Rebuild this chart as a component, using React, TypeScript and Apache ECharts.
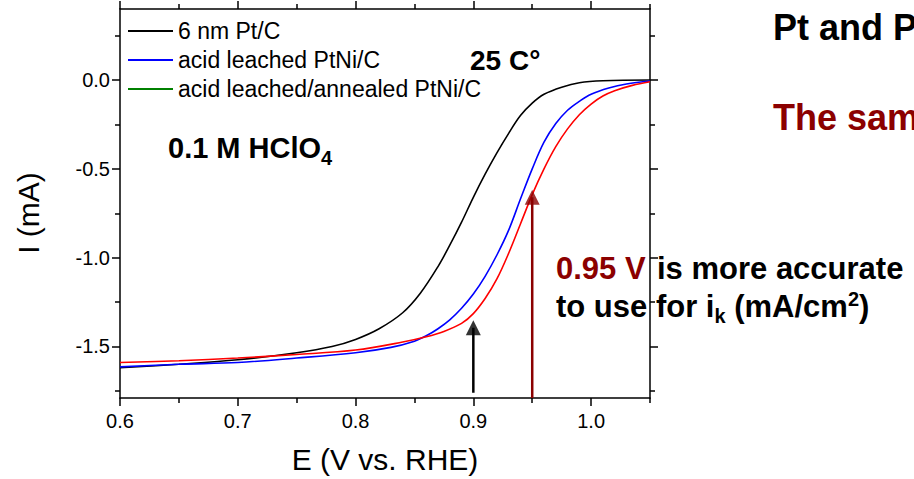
import React, { useEffect, useRef } from "react";
import * as echarts from "echarts";

// Polarization curves, I (mA) vs E (V vs. RHE)
const ptC: [number, number][] = [
  [0.6, -1.62], [0.65, -1.6], [0.7, -1.575], [0.75, -1.535], [0.78, -1.5],
  [0.8, -1.46], [0.82, -1.4], [0.84, -1.31], [0.855, -1.2], [0.87, -1.05],
  [0.88, -0.93], [0.89, -0.8], [0.9, -0.66], [0.91, -0.53], [0.92, -0.41],
  [0.93, -0.3], [0.94, -0.2], [0.95, -0.13], [0.96, -0.08], [0.975, -0.04],
  [0.99, -0.015], [1.01, -0.004], [1.05, 0.0],
];
const leachedPtNi: [number, number][] = [
  [0.6, -1.615], [0.65, -1.6], [0.7, -1.59], [0.75, -1.565], [0.8, -1.535],
  [0.83, -1.505], [0.85, -1.47], [0.86, -1.44], [0.87, -1.4], [0.88, -1.35],
  [0.89, -1.285], [0.9, -1.205], [0.91, -1.105], [0.92, -0.985], [0.93, -0.845],
  [0.94, -0.67], [0.95, -0.5], [0.96, -0.35], [0.97, -0.245], [0.98, -0.17],
  [0.99, -0.12], [1.0, -0.08], [1.015, -0.045], [1.03, -0.022], [1.05, -0.005],
];
const annealedPtNi: [number, number][] = [
  [0.6, -1.59], [0.65, -1.58], [0.7, -1.565], [0.75, -1.545], [0.8, -1.52],
  [0.84, -1.475], [0.86, -1.445], [0.875, -1.415], [0.89, -1.37], [0.9, -1.315],
  [0.91, -1.23], [0.92, -1.12], [0.93, -0.975], [0.94, -0.81], [0.95, -0.645],
  [0.96, -0.5], [0.97, -0.375], [0.98, -0.275], [0.99, -0.195], [1.0, -0.135],
  [1.01, -0.09], [1.02, -0.06], [1.035, -0.03], [1.05, -0.01],
];

const seriesNames = ["6 nm Pt/C", "acid leached PtNi/C", "acid leached/annealed PtNi/C"];
const seriesColors = ["#000000", "#0000ff", "#ff0000"];
const legendColors = ["#000000", "#0000ff", "#008000"];

const xRange = [0.6, 1.05];
const yRange = [-1.79, 0.4];
const xMajorTicks = [0.6, 0.7, 0.8, 0.9, 1.0];
const xMinorTicks = [0.65, 0.75, 0.85, 0.95, 1.05];
const yMajorTicks = [-1.5, -1.0, -0.5, 0.0];
const yMinorTicks = [-1.75, -1.25, -0.75, -0.25, 0.25];

// Arrow markers: potential, shaft foot current, arrowhead centre current
const blackArrowE = 0.9;
const blackArrowI = [-1.76, -1.394];
const redArrowE = 0.95;
const redArrowI = [-1.79, -0.66];

const FONT = "'Liberation Sans', Arial, sans-serif";
const DARK_RED = "#8b0000";

function axisPair(kind: "x" | "y", position: string, showLabels: boolean) {
  const range = kind === "x" ? xRange : yRange;
  const major = kind === "x" ? xMajorTicks : yMajorTicks;
  const minor = kind === "x" ? xMinorTicks : yMinorTicks;
  const base = {
    type: "value",
    min: range[0],
    max: range[1],
    position,
    splitLine: { show: false },
  };
  return [
    {
      ...base,
      axisLine: { show: true, onZero: false, lineStyle: { color: "#000", width: 1.5 } },
      axisTick: {
        show: true,
        inside: false,
        length: 8,
        customValues: major,
        lineStyle: { color: "#000", width: 1.5 },
      },
      axisLabel: showLabels
        ? {
            show: true,
            customValues: major,
            formatter: (v: number) => v.toFixed(1),
            margin: kind === "x" ? 13 : 10,
            fontSize: 20,
            fontFamily: FONT,
            color: "#000",
          }
        : { show: false },
    },
    {
      ...base,
      axisLine: { show: false, onZero: false },
      axisTick: {
        show: true,
        inside: false,
        length: 5,
        customValues: minor,
        lineStyle: { color: "#000", width: 1.5 },
      },
      axisLabel: { show: false },
    },
  ];
}

function arrowSeries(e: number, currents: number[], color: string) {
  return [
    {
      type: "line",
      data: [
        [e, currents[0]],
        [e, currents[1]],
      ],
      showSymbol: false,
      symbol: "none",
      silent: true,
      lineStyle: { color, width: 2.5 },
      z: 6,
    },
    {
      type: "scatter",
      data: [[e, currents[1]]],
      symbol: "triangle",
      symbolSize: [15, 15],
      silent: true,
      itemStyle: { color },
      z: 6,
    },
  ];
}

export default function App() {
  const ref = useRef<HTMLDivElement>(null);

  useEffect(() => {
    if (!ref.current) return;
    const chart = echarts.init(ref.current, undefined, { renderer: "svg" });
    const datasets = [ptC, leachedPtNi, annealedPtNi];

    const option: any = {
      animation: false,
      backgroundColor: "#ffffff",
      grid: { left: 120, right: 264, top: 9, bottom: 81 },
      xAxis: [...axisPair("x", "bottom", true), ...axisPair("x", "top", false)],
      yAxis: [...axisPair("y", "left", true), ...axisPair("y", "right", false)],
      legend: {
        orient: "vertical",
        left: 128,
        top: 19,
        padding: 0,
        itemGap: 5,
        itemWidth: 45,
        itemHeight: 2,
        icon: "rect",
        selectedMode: false,
        textStyle: { fontSize: 23, lineHeight: 24, fontFamily: FONT, color: "#000" },
        data: seriesNames.map((name, i) => ({
          name,
          itemStyle: { color: legendColors[i] },
        })),
      },
      series: [
        ...datasets.map((data, i) => ({
          name: seriesNames[i],
          type: "line",
          data,
          showSymbol: false,
          symbol: "none",
          smooth: 0.35,
          color: seriesColors[i],
          lineStyle: { color: seriesColors[i], width: 1.6 },
          z: 3 + i,
        })),
        ...arrowSeries(blackArrowE, blackArrowI, "#000000"),
        ...arrowSeries(redArrowE, redArrowI, DARK_RED),
      ],
      graphic: [
        {
          type: "text",
          x: 385,
          y: 459,
          style: {
            text: "E (V vs. RHE)",
            font: `30px ${FONT}`,
            fill: "#000",
            align: "center",
            verticalAlign: "middle",
          },
        },
        {
          type: "text",
          x: 28,
          y: 213,
          rotation: Math.PI / 2,
          style: {
            text: "I (mA)",
            font: `30px ${FONT}`,
            fill: "#000",
            align: "center",
            verticalAlign: "middle",
          },
        },
        {
          type: "text",
          x: 168,
          y: 128,
          style: {
            text: "{m|0.1 M HClO}{s|4}",
            fill: "#000",
            align: "left",
            verticalAlign: "top",
            rich: {
              m: { fontSize: 29, fontWeight: "bold", fontFamily: FONT, lineHeight: 40, verticalAlign: "middle" },
              s: { fontSize: 20, fontWeight: "bold", fontFamily: FONT, lineHeight: 40, verticalAlign: "bottom" },
            },
          },
        },
        {
          type: "text",
          x: 470,
          y: 60,
          style: {
            text: "25 C°",
            font: `bold 28px ${FONT}`,
            fill: "#000",
            align: "left",
            verticalAlign: "middle",
          },
        },
        {
          type: "text",
          x: 773,
          y: 27,
          style: {
            text: "Pt and P",
            font: `bold 36px ${FONT}`,
            fill: "#000",
            align: "left",
            verticalAlign: "middle",
          },
        },
        {
          type: "text",
          x: 773,
          y: 117,
          style: {
            text: "The sam",
            font: `bold 36px ${FONT}`,
            fill: DARK_RED,
            align: "left",
            verticalAlign: "middle",
          },
        },
        {
          type: "text",
          x: 556,
          y: 268,
          style: {
            text: "0.95 V",
            font: `bold 31px ${FONT}`,
            fill: DARK_RED,
            align: "left",
            verticalAlign: "middle",
          },
        },
        {
          type: "text",
          x: 657,
          y: 268,
          style: {
            text: "is more accurate",
            font: `bold 31px ${FONT}`,
            fill: "#000",
            align: "left",
            verticalAlign: "middle",
          },
        },
        {
          type: "text",
          x: 556,
          y: 286,
          style: {
            text: "{m|to use for i}{s|k}{m| (mA/cm}{p|2}{m|)}",
            fill: "#000",
            align: "left",
            verticalAlign: "top",
            rich: {
              m: { fontSize: 31, fontWeight: "bold", fontFamily: FONT, lineHeight: 40, verticalAlign: "middle" },
              s: { fontSize: 20, fontWeight: "bold", fontFamily: FONT, lineHeight: 40, verticalAlign: "bottom" },
              p: { fontSize: 20, fontWeight: "bold", fontFamily: FONT, lineHeight: 40, verticalAlign: "top", padding: [3, 0, 0, 0] },
            },
          },
        },
      ],
    };

    chart.setOption(option);
    return () => chart.dispose();
  }, []);

  return (
    <div
      ref={ref}
      style={{ position: "fixed", left: 0, top: 0, width: 914, height: 479, background: "#fff" }}
    />
  );
}
